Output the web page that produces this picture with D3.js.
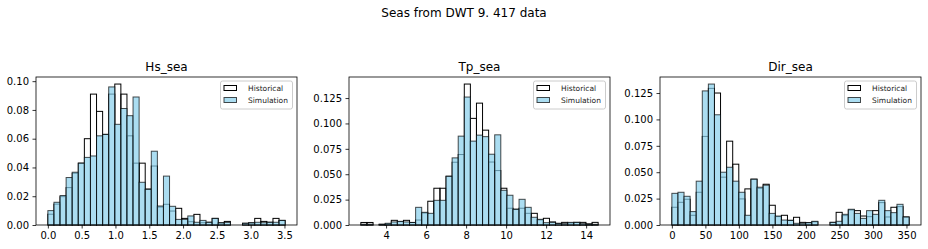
<!DOCTYPE html>
<meta charset="utf-8">
<style>
  body { margin: 0; background: #fff; }
  svg { display: block; font-family: "DejaVu Sans", sans-serif; }
  .axis path, .axis line { fill: none; stroke: black; stroke-width: 0.8; }
  .axis text { font-family: "DejaVu Sans", sans-serif; font-size: 10px; fill: black; }
</style>
<div class="chart"></div>
<script src="https://cdn.jsdelivr.net/npm/d3@7"></script>
<script>
// bin edges of each variable (39 bins each), density heights
var hsRange = [0, 3.51],
    tpRange = [2.74, 14.6],
    dirRange = [0, 354];

var hsHist = [0.0075, 0.0145, 0.0197, 0.026, 0.036, 0.043, 0.060, 0.091, 0.079, 0.063,
              0.091, 0.098, 0.091, 0.062, 0.043, 0.043, 0.025, 0.041, 0.0125, 0.0144,
              0.0097, 0.0116, 0.0046, 0.0023, 0.0074, 0.0016, 0.0019, 0.0046, 0.0015, 0.0025,
              0, 0, 0.0012, 0.0015, 0.0046, 0.0025, 0.0019, 0.0046, 0.0032];
var hsSim = [0.010, 0.0158, 0.0205, 0.033, 0.0367, 0.043, 0.047, 0.048, 0.062, 0.063,
             0.096, 0.070, 0.081, 0.076, 0.089, 0.0297, 0.0248, 0.0513, 0.0132, 0.034,
             0.013, 0.0039, 0.0039, 0.0063, 0.0019, 0.0032, 0.0019, 0.0046, 0.0015, 0.0018,
             0, 0, 0.0012, 0.0015, 0.0019, 0.0016, 0.0019, 0.0019, 0.0032];

var tpHist = [0.0025, 0.0025, 0, 0.0007, 0.001, 0.0046, 0.0033, 0.0046, 0.0025, 0.0049,
              0.0118, 0.0234, 0.0362, 0.0362, 0.048, 0.0618, 0.0694, 0.1388, 0.105, 0.12,
              0.0934, 0.062, 0.0536, 0.0362, 0.0165, 0.0155, 0.0165, 0.0115, 0.0115, 0.005,
              0.0066, 0.003, 0.0016, 0.0026, 0.002, 0.0026, 0.0026, 0.001, 0.0026];
var tpSim = [0.0008, 0.0008, 0, 0.0007, 0.0017, 0.003, 0.0036, 0.003, 0.0025, 0.0174,
             0.0125, 0.0115, 0.0243, 0.0243, 0.048, 0.0661, 0.0875, 0.126, 0.0826, 0.0885,
             0.087, 0.0697, 0.0888, 0.0342, 0.0293, 0.0155, 0.0253, 0.0174, 0.0076, 0.0056,
             0.0023, 0.0026, 0.0016, 0.0013, 0.0026, 0.0026, 0.0013, 0.001, 0.0007];

var dirHist = [0.0168, 0.0215, 0.0244, 0.0092, 0.031, 0.0839, 0.1294, 0.125, 0.0453, 0.0794,
               0.0576, 0.0247, 0.0342, 0.0434, 0.0348, 0.0386, 0.0187, 0.008, 0.0092, 0.0044,
               0.0073, 0.0025, 0.0022, 0.003, 0, 0, 0.0025, 0.012, 0.0089, 0.0142,
               0.0136, 0.0085, 0.0079, 0.0136, 0.0212, 0.0076, 0.0168, 0.0174, 0.0076];
var dirSim = [0.030, 0.031, 0.0272, 0.0127, 0.0415, 0.127, 0.1335, 0.1044, 0.05, 0.0547,
              0.0415, 0.031, 0.0092, 0.0434, 0.0358, 0.0377, 0.011, 0.0085, 0.0047, 0.0044,
              0.0016, 0.0016, 0.0022, 0.0035, 0, 0, 0.0025, 0.0035, 0.0101, 0.0149,
              0.011, 0.0063, 0.0136, 0.0101, 0.0234, 0.0136, 0.0117, 0.0196, 0.0076];

var hsXTicks = [0, 0.5, 1, 1.5, 2, 2.5, 3, 3.5],
    hsYTicks = [0, 0.02, 0.04, 0.06, 0.08, 0.10],
    tpXTicks = [4, 6, 8, 10, 12, 14],
    tpYTicks = [0, 0.025, 0.05, 0.075, 0.1, 0.125],
    dirXTicks = [0, 50, 100, 150, 200, 250, 300, 350],
    dirYTicks = [0, 0.025, 0.05, 0.075, 0.1, 0.125];

var legendLabels = ["Historical", "Simulation"];

var width = 928, height = 249,
    axTop = 77, axBottom = 225, axWidth = 261;

var svg = d3.select(".chart").append("svg")
    .attr("width", width)
    .attr("height", height);

svg.append("text")
    .attr("x", 464)
    .attr("y", 17)
    .attr("text-anchor", "middle")
    .style("font-size", "12px")
    .text("Seas from DWT 9. 417 data");

function panel(left, title, range, hist, sim, xTicks, yTicks, xFmt, yFmt) {
  var n = hist.length,
      step = (range[1] - range[0]) / n,
      bins = d3.range(n).map((i) => ({x0: range[0] + i * step, x1: range[0] + (i + 1) * step, h: hist[i], s: sim[i]}));

  var span = range[1] - range[0];
  var x = d3.scaleLinear()
      .domain([range[0] - 0.05 * span, range[1] + 0.05 * span])
      .range([left, left + axWidth]);
  var ymax = d3.max(hist.concat(sim)) * 1.05;
  var y = d3.scaleLinear()
      .domain([0, ymax])
      .range([axBottom, axTop]);

  var g = svg.append("g");

  g.selectAll(".hist")
    .data(bins.filter((d) => d.h > 0))
    .enter().append("rect")
    .attr("class", "hist")
    .attr("x", (d) => x(d.x0))
    .attr("width", (d) => x(d.x1) - x(d.x0))
    .attr("y", (d) => y(d.h))
    .attr("height", (d) => y(0) - y(d.h))
    .attr("fill", "none")
    .attr("stroke", "black")
    .attr("stroke-width", 1);

  g.selectAll(".sim")
    .data(bins.filter((d) => d.s > 0))
    .enter().append("rect")
    .attr("class", "sim")
    .attr("x", (d) => x(d.x0))
    .attr("width", (d) => x(d.x1) - x(d.x0))
    .attr("y", (d) => y(d.s))
    .attr("height", (d) => y(0) - y(d.s))
    .attr("fill", "skyblue")
    .attr("fill-opacity", 0.7)
    .attr("stroke", "black")
    .attr("stroke-opacity", 0.7)
    .attr("stroke-width", 1);

  // frame
  g.append("rect")
    .attr("x", left)
    .attr("y", axTop)
    .attr("width", axWidth)
    .attr("height", axBottom - axTop)
    .attr("fill", "none")
    .attr("stroke", "black")
    .attr("stroke-width", 0.8);

  g.append("g")
    .attr("class", "x axis")
    .attr("transform", "translate(0," + axBottom + ")")
    .call(d3.axisBottom(x).tickValues(xTicks).tickFormat(xFmt).tickSize(3.5).tickPadding(3.5))
    .call((a) => a.select(".domain").remove());

  g.append("g")
    .attr("class", "y axis")
    .attr("transform", "translate(" + left + ",0)")
    .call(d3.axisLeft(y).tickValues(yTicks).tickFormat(yFmt).tickSize(3.5).tickPadding(3.5))
    .call((a) => a.select(".domain").remove());

  g.append("text")
    .attr("x", left + axWidth / 2)
    .attr("y", axTop - 6)
    .attr("text-anchor", "middle")
    .style("font-size", "12px")
    .text(title);

  // legend
  var lx = left + axWidth - 4.5 - 72, ly = axTop + 4;
  var leg = g.append("g").attr("transform", "translate(" + lx + "," + ly + ")");
  leg.append("rect")
    .attr("width", 72)
    .attr("height", 28)
    .attr("rx", 2)
    .attr("fill", "white")
    .attr("fill-opacity", 0.8)
    .attr("stroke", "#cccccc")
    .attr("stroke-width", 1);

  legendLabels.forEach((lab, i) => {
    var cy = 7 + i * 12;
    var r = leg.append("rect")
      .attr("x", 3.5)
      .attr("y", cy - 2.5)
      .attr("width", 12.5)
      .attr("height", 5)
      .attr("stroke", "black")
      .attr("stroke-width", 1);
    if (i == 0) {
      r.attr("fill", "none");
    } else {
      r.attr("fill", "skyblue").attr("fill-opacity", 0.7).attr("stroke-opacity", 0.7);
    }
    leg.append("text")
      .attr("x", 27.5)
      .attr("y", cy + 2.7)
      .style("font-size", "7.5px")
      .attr("fill", "#222")
      .text(lab);
  });
}

panel(36, "Hs_sea", hsRange, hsHist, hsSim, hsXTicks, hsYTicks, d3.format(".1f"), d3.format(".2f"));
panel(349, "Tp_sea", tpRange, tpHist, tpSim, tpXTicks, tpYTicks, d3.format("d"), d3.format(".3f"));
panel(660, "Dir_sea", dirRange, dirHist, dirSim, dirXTicks, dirYTicks, d3.format("d"), d3.format(".3f"));
</script>
